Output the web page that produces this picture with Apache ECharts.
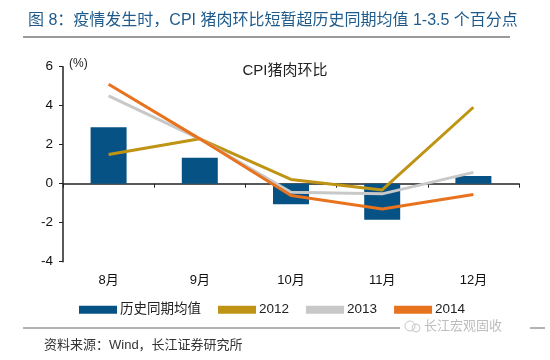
<!DOCTYPE html>
<html><head><meta charset="utf-8">
<script src="https://cdn.jsdelivr.net/npm/echarts@6/dist/echarts.min.js"></script>
<style>html,body{margin:0;padding:0;background:#fff}#c{width:550px;height:360px}</style>
</head><body><div id="c"></div>
<script>
var categories = ['8月', '9月', '10月', '11月', '12月'];
var histAvg = [2.9, 1.33, -1.05, -1.85, 0.4];
var y2012 = [1.5, 2.3, 0.22, -0.32, 3.92];
var y2013 = [4.5, 2.3, -0.44, -0.52, 0.58];
var y2014 = [5.1, 2.3, -0.6, -1.3, -0.55];
var yTicks = [-4, -2, 0, 2, 4, 6];

var font = '"Liberation Sans", Arial, "Noto Sans CJK SC", sans-serif';
var chart = echarts.init(document.getElementById('c'), null, {renderer: 'canvas'});
chart.setOption({
  animation: false,
  textStyle: {fontFamily: font},
  grid: {left: 63, right: 31, top: 66.7, bottom: 98.3, containLabel: false},
  title: [{
    text: '图 8：疫情发生时，CPI 猪肉环比短暂超历史同期均值 1-3.5 个百分点',
    left: 23, top: 8,
    textStyle: {color: '#1e5b8c', fontSize: 16, fontWeight: 'normal', fontFamily: font}
  }, {
    text: 'CPI猪肉环比', left: 280, top: 58, textAlign: 'center',
    textStyle: {color: '#222', fontSize: 15, fontWeight: 'normal', fontFamily: font}
  }],
  legend: {
    left: 74, top: 298, itemWidth: 38, itemHeight: 8, itemGap: 17,
    textStyle: {fontSize: 13.5, color: '#222', fontFamily: font, padding: [0,0,0,-2]},
    data: [
      {name: '历史同期均值', icon: 'rect'},
      {name: '2012', icon: 'rect', itemStyle: {color: '#bf9414'}},
      {name: '2013', icon: 'rect', itemStyle: {color: '#c8c8c8'}},
      {name: '2014', icon: 'rect', itemStyle: {color: '#e8731e'}}
    ]
  },
  xAxis: [{
    type: 'category', data: categories,
    axisLine: {onZero: true, lineStyle: {color: '#222', width: 1.5}},
    axisTick: {show: true, length: 4, inside: false, lineStyle: {color: '#222'}},
    axisLabel: {show: false}
  }, {
    type: 'category', data: categories, position: 'bottom',
    axisLine: {show: false, onZero: false},
    axisTick: {show: false},
    axisLabel: {show: true, color: '#111', fontSize: 13, margin: 12, fontFamily: font}
  }],
  yAxis: {
    type: 'value', min: -4, max: 6, interval: 2,
    splitLine: {show: false},
    axisLine: {show: true, lineStyle: {color: '#222', width: 1.5}},
    axisTick: {show: true, length: 4, lineStyle: {color: '#222'}},
    axisLabel: {color: '#111', fontSize: 13.5, margin: 10, fontFamily: font}
  },
  graphic: [
    {type: 'text', left: 69, top: 58, style: {text: '(%)', fontSize: 12, fill: '#222', fontFamily: font}},
    {type: 'line', shape: {x1: 23, y1: 37, x2: 510, y2: 37}, style: {stroke: '#9a9a9a', lineWidth: 2}},
    {type: 'line', shape: {x1: 23, y1: 328, x2: 545, y2: 328}, style: {stroke: '#666', lineWidth: 1}},
    {type: 'rect', shape: {x: 400, y: 320, width: 130, height: 14}, style: {fill: '#fff'}},
    {type: 'circle', shape: {cx: 410, cy: 326, r: 5}, style: {fill: 'none', stroke: '#c8c8c8', lineWidth: 1}},
    {type: 'circle', shape: {cx: 416, cy: 328, r: 4}, style: {fill: 'none', stroke: '#c8c8c8', lineWidth: 1}},
    {type: 'text', left: 424, top: 320, style: {text: '长江宏观固收', fontSize: 13, fill: '#bdbdbd', fontFamily: font}},
    {type: 'text', left: 44, top: 339, style: {text: '资料来源：Wind，长江证券研究所', fontSize: 13, fill: '#333', fontFamily: font}}
  ],
  series: [
    {name: '历史同期均值', type: 'bar', data: histAvg, barWidth: 36, itemStyle: {color: '#075285'}, z: 1},
    {name: '2012', type: 'line', data: y2012, symbol: 'none', lineStyle: {color: '#bf9414', width: 3}, itemStyle: {color: '#bf9414'}, z: 2},
    {name: '2013', type: 'line', data: y2013, symbol: 'none', lineStyle: {color: '#c8c8c8', width: 3}, itemStyle: {color: '#c8c8c8'}, z: 3},
    {name: '2014', type: 'line', data: y2014, symbol: 'none', lineStyle: {color: '#e8731e', width: 3}, itemStyle: {color: '#e8731e'}, z: 4}
  ]
});
</script>
</body></html>
